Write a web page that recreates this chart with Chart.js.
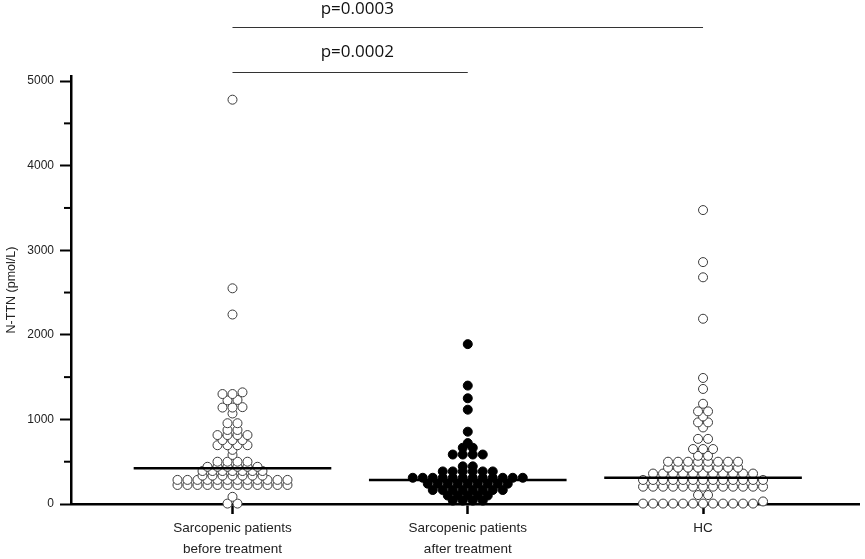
<!DOCTYPE html>
<html lang="en">
<head>
    <meta charset="UTF-8">
    <title>N-TTN dot plot</title>
</head>
<script src="https://cdn.jsdelivr.net/npm/chart.js"></script>
<style>
body {
    margin: 0;
    background: #ffffff;
}
#DotPlot {
    display: block;
}
</style>
<body>
    <canvas id="DotPlot" width="865" height="559"></canvas>
    <script>
        // categories (x ticks) and the raw values
        const categories = [
            ['Sarcopenic patients', 'before treatment'],
            ['Sarcopenic patients', 'after treatment'],
            ['HC']
        ];
        const beforeValues = [
            4780, 2550, 2240,
            1300, 1300, 1320,
            1230, 1225,
            1140, 1140, 1145,
            1070,
            955, 955,
            875, 875,
            815, 815, 815, 815,
            755, 755, 755,
            695, 695, 695, 695,
            640,
            580,
            500, 500, 500, 500,
            440, 440, 440, 440, 440, 440,
            390, 390, 390, 390, 390, 390, 390,
            335, 335, 335, 335, 335, 335, 335,
            285, 285, 285, 285, 285, 285, 285, 285, 285, 285, 285, 285,
            225, 225, 225, 225, 225, 225, 225, 225, 225, 225, 225, 225,
            85,
            5, 5
        ];
        const afterValues = [
            1890, 1400, 1250, 1115, 855, 720,
            665, 665,
            585, 585, 585, 585,
            445, 445,
            385, 385, 385, 385, 385, 385,
            310, 310, 310, 310, 310, 310, 310, 310, 310, 310, 310, 310,
            240, 240, 240, 240, 240, 240, 240, 240, 240,
            165, 165, 165, 165, 165, 165, 165, 165,
            100, 100, 100, 100, 100,
            40, 40, 40, 40
        ];
        const hcValues = [
            3475, 2860, 2680, 2190, 1490, 1360, 1185,
            1095, 1095,
            1035,
            965, 965,
            905,
            770, 770,
            650, 650, 650,
            570, 570,
            500, 500, 500, 500, 500, 500, 500, 500,
            430, 430, 430, 430, 430, 430, 430, 430,
            360, 360, 360, 360, 360, 360, 360, 360, 360, 360, 360,
            284, 284, 284, 284, 284, 284, 284, 284, 284, 284, 284, 284, 284,
            205, 205, 205, 205, 205, 205, 205, 205, 205, 205, 205, 205, 205,
            106, 106,
            5, 5, 5, 5, 5, 5, 5, 5, 5, 5, 5, 5, 30
        ];
        const medians = [422, 284, 311];
        const yTickValues = [0, 500, 1000, 1500, 2000, 2500, 3000, 3500, 4000, 4500, 5000];
        const compareFrom = [0, 0];
        const compareTo = [2, 1];
        const pLabels = ['p=0.0003', 'p=0.0002'];

        const labelFont = "'Liberation Sans', Arial, sans-serif";

        // Prism-like dot layout: close values share a row, placed side by side
        function swarm(values, center, step) {
            const sorted = values.slice().sort((a, b) => a - b);
            const rows = [];
            sorted.forEach(v => {
                const row = rows[rows.length - 1];
                if (row && v - row[0] <= 30) row.push(v);
                else rows.push([v]);
            });
            const pts = [];
            rows.forEach(row => {
                row.forEach((v, i) => {
                    pts.push({x: center + (i - (row.length - 1) / 2) * step, y: v});
                });
            });
            return pts;
        }

        function medianLine(i) {
            return [{x: i + 1 - 0.42, y: medians[i]}, {x: i + 1 + 0.42, y: medians[i]}];
        }

        // short ticks at 500s and the p-value brackets on top
        const extras = {
            id: 'extras',
            afterDraw(chart) {
                const {ctx, scales: {x, y}} = chart;
                ctx.save();
                ctx.strokeStyle = '#000';
                ctx.lineWidth = 2;
                yTickValues.forEach(v => {
                    if (v % 1000 === 0) return;
                    const py = y.getPixelForValue(v);
                    ctx.beginPath();
                    ctx.moveTo(x.left - 7, py);
                    ctx.lineTo(x.left, py);
                    ctx.stroke();
                });

                const lineLevels = [5643, 5112];
                const textLevels = [5851, 5338];
                ctx.strokeStyle = '#333';
                ctx.lineWidth = 1;
                ctx.fillStyle = '#111';
                ctx.font = "17px 'Open Sans', sans-serif";
                ctx.textAlign = 'left';
                ctx.textBaseline = 'middle';
                pLabels.forEach((txt, i) => {
                    const x0 = x.getPixelForValue(compareFrom[i] + 1);
                    const x1 = x.getPixelForValue(compareTo[i] + 1);
                    const py = Math.round(y.getPixelForValue(lineLevels[i])) + 0.5;
                    ctx.beginPath();
                    ctx.moveTo(x0, py);
                    ctx.lineTo(x1, py);
                    ctx.stroke();
                    ctx.fillText(txt, x.getPixelForValue(compareFrom[i] + 1.375), y.getPixelForValue(textLevels[i]));
                });
                ctx.restore();
            }
        };

        function openDots(values) {
            return {
                type: 'scatter',
                data: values.map(v => ({x: 0, y: v})),
                pointRadius: 4.5,
                pointBackgroundColor: '#ffffff',
                pointBorderColor: '#3a3a3a',
                pointBorderWidth: 1,
                clip: false
            };
        }

        const ctx = document.getElementById('DotPlot').getContext('2d');
        const chart = new Chart(ctx, {
            type: 'scatter',
            data: {
                datasets: [
                    ...[0, 1, 2].map(i => ({
                        type: 'line',
                        data: medianLine(i),
                        borderColor: '#000',
                        borderWidth: 2.5,
                        pointRadius: 0,
                        clip: false
                    })),
                    openDots(beforeValues),
                    {
                        type: 'scatter',
                        data: afterValues.map(v => ({x: 0, y: v})),
                        pointRadius: 4.5,
                        pointBackgroundColor: '#000',
                        pointBorderColor: '#000',
                        pointBorderWidth: 1,
                        clip: false
                    },
                    openDots(hcValues)
                ]
            },
            options: {
                responsive: false,
                animation: false,
                layout: {padding: {top: 76, right: 3, left: 0, bottom: 0}},
                plugins: {
                    legend: {display: false},
                    tooltip: {enabled: false}
                },
                scales: {
                    x: {
                        type: 'linear',
                        min: 0.3136,
                        max: 3.665,
                        afterBuildTicks: s => { s.ticks = categories.map((c, i) => ({value: i + 1})); },
                        afterFit: s => { s.height = 55; },
                        ticks: {
                            callback: v => categories[v - 1],
                            autoSkip: false,
                            maxRotation: 0,
                            padding: 4,
                            color: '#222',
                            font: {family: labelFont, size: 13.5, lineHeight: 1.55}
                        },
                        grid: {
                            drawOnChartArea: false,
                            tickLength: 10,
                            tickWidth: 2.5,
                            tickColor: '#000'
                        },
                        border: {color: '#000', width: 2.5}
                    },
                    y: {
                        type: 'linear',
                        min: 0,
                        max: 5060,
                        afterBuildTicks: s => { s.ticks = yTickValues.map(v => ({value: v})); },
                        afterFit: s => { s.width = 71; },
                        ticks: {
                            callback: v => (v % 1000 === 0 ? v : ''),
                            padding: 6,
                            color: '#222',
                            font: {family: labelFont, size: 12}
                        },
                        grid: {
                            drawOnChartArea: false,
                            tickLength: 11,
                            tickWidth: 2,
                            tickColor: c => (c.tick && c.tick.value % 1000 === 0 ? '#000' : 'rgba(0,0,0,0)')
                        },
                        border: {color: '#000', width: 2.5},
                        title: {
                            display: true,
                            text: 'N-TTN (pmol/L)',
                            color: '#222',
                            font: {family: labelFont, size: 12.5},
                            padding: {top: 4, bottom: 0}
                        }
                    }
                }
            },
            plugins: [extras]
        });

        // lay the dots out once the x scale knows its pixel size
        const xs = chart.scales.x;
        const step = 10 / (xs.getPixelForValue(1) - xs.getPixelForValue(0));
        chart.data.datasets[3].data = swarm(beforeValues, 1, step);
        chart.data.datasets[4].data = swarm(afterValues, 2, step);
        chart.data.datasets[5].data = swarm(hcValues, 3, step);
        chart.update('none');
    </script>
</body>
</html>
